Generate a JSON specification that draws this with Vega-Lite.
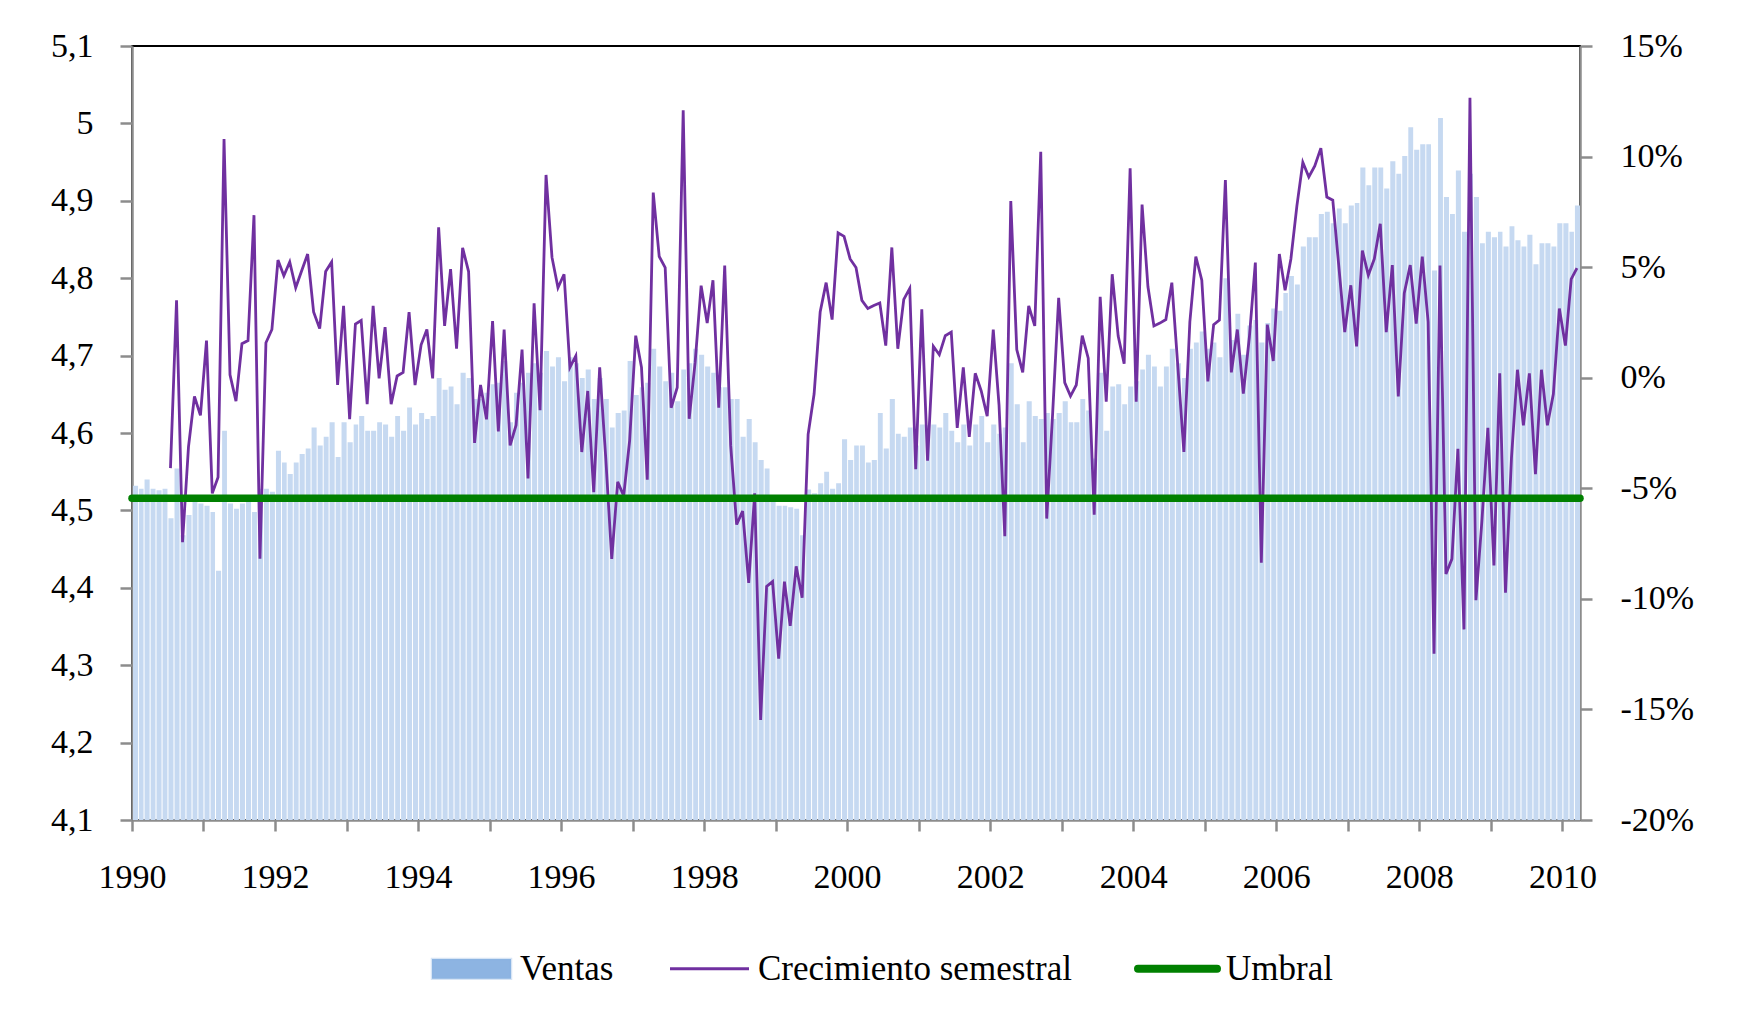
{
  "$schema": "https://vega.github.io/schema/vega-lite/v6.json",
  "autosize": {"type": "none"},
  "width": 1448,
  "height": 774,
  "padding": {"left": 132, "top": 46, "right": 166, "bottom": 202},
  "background": "white",
  "config": {
    "view": {"stroke": "black", "strokeWidth": 2},
    "font": "Liberation Serif",
    "axis": {
      "labelFont": "Liberation Serif",
      "labelFontSize": 34,
      "labelColor": "black",
      "domainColor": "#8C8C8C",
      "domainWidth": 2.5,
      "tickColor": "#8C8C8C",
      "tickWidth": 2.5,
      "tickSize": 12,
      "grid": false
    }
  },
  "data": {
    "values": [
      {"fecha": "1990-01-01", "ventas": 4.532, "crec": null},
      {"fecha": "1990-02-01", "ventas": 4.528, "crec": null},
      {"fecha": "1990-03-01", "ventas": 4.540, "crec": null},
      {"fecha": "1990-04-01", "ventas": 4.528, "crec": null},
      {"fecha": "1990-05-01", "ventas": 4.526, "crec": null},
      {"fecha": "1990-06-01", "ventas": 4.528, "crec": null},
      {"fecha": "1990-07-01", "ventas": 4.490, "crec": -4.09},
      {"fecha": "1990-08-01", "ventas": 4.554, "crec": 3.50},
      {"fecha": "1990-09-01", "ventas": 4.468, "crec": -7.44},
      {"fecha": "1990-10-01", "ventas": 4.494, "crec": -3.13},
      {"fecha": "1990-11-01", "ventas": 4.512, "crec": -0.85},
      {"fecha": "1990-12-01", "ventas": 4.509, "crec": -1.70},
      {"fecha": "1991-01-01", "ventas": 4.506, "crec": 1.68},
      {"fecha": "1991-02-01", "ventas": 4.498, "crec": -5.23},
      {"fecha": "1991-03-01", "ventas": 4.422, "crec": -4.50},
      {"fecha": "1991-04-01", "ventas": 4.603, "crec": 10.79},
      {"fecha": "1991-05-01", "ventas": 4.509, "crec": 0.13},
      {"fecha": "1991-06-01", "ventas": 4.502, "crec": -1.06},
      {"fecha": "1991-07-01", "ventas": 4.509, "crec": 1.54},
      {"fecha": "1991-08-01", "ventas": 4.512, "crec": 1.68},
      {"fecha": "1991-09-01", "ventas": 4.498, "crec": 7.35},
      {"fecha": "1991-10-01", "ventas": 4.528, "crec": -8.19},
      {"fecha": "1991-11-01", "ventas": 4.528, "crec": 1.58},
      {"fecha": "1991-12-01", "ventas": 4.524, "crec": 2.18},
      {"fecha": "1992-01-01", "ventas": 4.577, "crec": 5.32},
      {"fecha": "1992-02-01", "ventas": 4.562, "crec": 4.61},
      {"fecha": "1992-03-01", "ventas": 4.547, "crec": 5.23},
      {"fecha": "1992-04-01", "ventas": 4.562, "crec": 4.07},
      {"fecha": "1992-05-01", "ventas": 4.573, "crec": 4.84},
      {"fecha": "1992-06-01", "ventas": 4.580, "crec": 5.59},
      {"fecha": "1992-07-01", "ventas": 4.607, "crec": 2.97},
      {"fecha": "1992-08-01", "ventas": 4.584, "crec": 2.22},
      {"fecha": "1992-09-01", "ventas": 4.595, "crec": 4.80},
      {"fecha": "1992-10-01", "ventas": 4.614, "crec": 5.23},
      {"fecha": "1992-11-01", "ventas": 4.569, "crec": -0.33},
      {"fecha": "1992-12-01", "ventas": 4.614, "crec": 3.25},
      {"fecha": "1993-01-01", "ventas": 4.588, "crec": -1.88},
      {"fecha": "1993-02-01", "ventas": 4.611, "crec": 2.43},
      {"fecha": "1993-03-01", "ventas": 4.622, "crec": 2.59},
      {"fecha": "1993-04-01", "ventas": 4.603, "crec": -1.20},
      {"fecha": "1993-05-01", "ventas": 4.603, "crec": 3.25},
      {"fecha": "1993-06-01", "ventas": 4.614, "crec": -0.03},
      {"fecha": "1993-07-01", "ventas": 4.611, "crec": 2.29},
      {"fecha": "1993-08-01", "ventas": 4.595, "crec": -1.20},
      {"fecha": "1993-09-01", "ventas": 4.622, "crec": 0.08},
      {"fecha": "1993-10-01", "ventas": 4.603, "crec": 0.24},
      {"fecha": "1993-11-01", "ventas": 4.633, "crec": 2.97},
      {"fecha": "1993-12-01", "ventas": 4.611, "crec": -0.33},
      {"fecha": "1994-01-01", "ventas": 4.626, "crec": 1.49},
      {"fecha": "1994-02-01", "ventas": 4.618, "crec": 2.18},
      {"fecha": "1994-03-01", "ventas": 4.622, "crec": -0.03},
      {"fecha": "1994-04-01", "ventas": 4.671, "crec": 6.80},
      {"fecha": "1994-05-01", "ventas": 4.656, "crec": 2.34},
      {"fecha": "1994-06-01", "ventas": 4.660, "crec": 4.91},
      {"fecha": "1994-07-01", "ventas": 4.637, "crec": 1.31},
      {"fecha": "1994-08-01", "ventas": 4.678, "crec": 5.87},
      {"fecha": "1994-09-01", "ventas": 4.671, "crec": 4.80},
      {"fecha": "1994-10-01", "ventas": 4.644, "crec": -2.95},
      {"fecha": "1994-11-01", "ventas": 4.644, "crec": -0.33},
      {"fecha": "1994-12-01", "ventas": 4.652, "crec": -1.88},
      {"fecha": "1995-01-01", "ventas": 4.663, "crec": 2.56},
      {"fecha": "1995-02-01", "ventas": 4.665, "crec": -2.43},
      {"fecha": "1995-03-01", "ventas": 4.693, "crec": 2.18},
      {"fecha": "1995-04-01", "ventas": 4.614, "crec": -3.06},
      {"fecha": "1995-05-01", "ventas": 4.652, "crec": -2.15},
      {"fecha": "1995-06-01", "ventas": 4.665, "crec": 1.27},
      {"fecha": "1995-07-01", "ventas": 4.678, "crec": -4.55},
      {"fecha": "1995-08-01", "ventas": 4.690, "crec": 3.36},
      {"fecha": "1995-09-01", "ventas": 4.678, "crec": -1.47},
      {"fecha": "1995-10-01", "ventas": 4.706, "crec": 9.17},
      {"fecha": "1995-11-01", "ventas": 4.686, "crec": 5.44},
      {"fecha": "1995-12-01", "ventas": 4.698, "crec": 4.07},
      {"fecha": "1996-01-01", "ventas": 4.667, "crec": 4.68},
      {"fecha": "1996-02-01", "ventas": 4.698, "crec": 0.47},
      {"fecha": "1996-03-01", "ventas": 4.690, "crec": 0.99},
      {"fecha": "1996-04-01", "ventas": 4.671, "crec": -3.36},
      {"fecha": "1996-05-01", "ventas": 4.682, "crec": -0.60},
      {"fecha": "1996-06-01", "ventas": 4.644, "crec": -5.18},
      {"fecha": "1996-07-01", "ventas": 4.671, "crec": 0.47},
      {"fecha": "1996-08-01", "ventas": 4.644, "crec": -3.63},
      {"fecha": "1996-09-01", "ventas": 4.607, "crec": -8.19},
      {"fecha": "1996-10-01", "ventas": 4.626, "crec": -4.71},
      {"fecha": "1996-11-01", "ventas": 4.629, "crec": -5.34},
      {"fecha": "1996-12-01", "ventas": 4.693, "crec": -2.84},
      {"fecha": "1997-01-01", "ventas": 4.649, "crec": 1.90},
      {"fecha": "1997-02-01", "ventas": 4.659, "crec": 0.47},
      {"fecha": "1997-03-01", "ventas": 4.665, "crec": -4.61},
      {"fecha": "1997-04-01", "ventas": 4.709, "crec": 8.37},
      {"fecha": "1997-05-01", "ventas": 4.686, "crec": 5.48},
      {"fecha": "1997-06-01", "ventas": 4.667, "crec": 4.98},
      {"fecha": "1997-07-01", "ventas": 4.678, "crec": -1.36},
      {"fecha": "1997-08-01", "ventas": 4.641, "crec": -0.44},
      {"fecha": "1997-09-01", "ventas": 4.682, "crec": 12.09},
      {"fecha": "1997-10-01", "ventas": 4.690, "crec": -1.86},
      {"fecha": "1997-11-01", "ventas": 4.709, "crec": 0.69},
      {"fecha": "1997-12-01", "ventas": 4.701, "crec": 4.16},
      {"fecha": "1998-01-01", "ventas": 4.686, "crec": 2.47},
      {"fecha": "1998-02-01", "ventas": 4.678, "crec": 4.41},
      {"fecha": "1998-03-01", "ventas": 4.659, "crec": -1.36},
      {"fecha": "1998-04-01", "ventas": 4.659, "crec": 5.07},
      {"fecha": "1998-05-01", "ventas": 4.644, "crec": -3.06},
      {"fecha": "1998-06-01", "ventas": 4.644, "crec": -6.64},
      {"fecha": "1998-07-01", "ventas": 4.595, "crec": -6.03},
      {"fecha": "1998-08-01", "ventas": 4.618, "crec": -9.28},
      {"fecha": "1998-09-01", "ventas": 4.588, "crec": -5.23},
      {"fecha": "1998-10-01", "ventas": 4.565, "crec": -15.48},
      {"fecha": "1998-11-01", "ventas": 4.554, "crec": -9.44},
      {"fecha": "1998-12-01", "ventas": 4.519, "crec": -9.22},
      {"fecha": "1999-01-01", "ventas": 4.506, "crec": -12.70},
      {"fecha": "1999-02-01", "ventas": 4.506, "crec": -9.22},
      {"fecha": "1999-03-01", "ventas": 4.504, "crec": -11.22},
      {"fecha": "1999-04-01", "ventas": 4.502, "crec": -8.53},
      {"fecha": "1999-05-01", "ventas": 4.468, "crec": -9.95},
      {"fecha": "1999-06-01", "ventas": 4.527, "crec": -2.56},
      {"fecha": "1999-07-01", "ventas": 4.522, "crec": -0.74},
      {"fecha": "1999-08-01", "ventas": 4.535, "crec": 2.97},
      {"fecha": "1999-09-01", "ventas": 4.550, "crec": 4.30},
      {"fecha": "1999-10-01", "ventas": 4.528, "crec": 2.63},
      {"fecha": "1999-11-01", "ventas": 4.535, "crec": 6.55},
      {"fecha": "1999-12-01", "ventas": 4.592, "crec": 6.39},
      {"fecha": "2000-01-01", "ventas": 4.565, "crec": 5.37},
      {"fecha": "2000-02-01", "ventas": 4.584, "crec": 4.98},
      {"fecha": "2000-03-01", "ventas": 4.584, "crec": 3.50},
      {"fecha": "2000-04-01", "ventas": 4.562, "crec": 3.13},
      {"fecha": "2000-05-01", "ventas": 4.565, "crec": 3.27},
      {"fecha": "2000-06-01", "ventas": 4.626, "crec": 3.38},
      {"fecha": "2000-07-01", "ventas": 4.580, "crec": 1.45},
      {"fecha": "2000-08-01", "ventas": 4.644, "crec": 5.89},
      {"fecha": "2000-09-01", "ventas": 4.599, "crec": 1.31},
      {"fecha": "2000-10-01", "ventas": 4.595, "crec": 3.54},
      {"fecha": "2000-11-01", "ventas": 4.607, "crec": 4.04},
      {"fecha": "2000-12-01", "ventas": 4.584, "crec": -4.14},
      {"fecha": "2001-01-01", "ventas": 4.611, "crec": 3.09},
      {"fecha": "2001-02-01", "ventas": 4.610, "crec": -3.75},
      {"fecha": "2001-03-01", "ventas": 4.611, "crec": 1.42},
      {"fecha": "2001-04-01", "ventas": 4.607, "crec": 1.04},
      {"fecha": "2001-05-01", "ventas": 4.626, "crec": 1.90},
      {"fecha": "2001-06-01", "ventas": 4.603, "crec": 2.06},
      {"fecha": "2001-07-01", "ventas": 4.588, "crec": -2.27},
      {"fecha": "2001-08-01", "ventas": 4.611, "crec": 0.47},
      {"fecha": "2001-09-01", "ventas": 4.584, "crec": -2.68},
      {"fecha": "2001-10-01", "ventas": 4.611, "crec": 0.20},
      {"fecha": "2001-11-01", "ventas": 4.622, "crec": -0.60},
      {"fecha": "2001-12-01", "ventas": 4.588, "crec": -1.74},
      {"fecha": "2002-01-01", "ventas": 4.611, "crec": 2.18},
      {"fecha": "2002-02-01", "ventas": 4.599, "crec": -1.24},
      {"fecha": "2002-03-01", "ventas": 4.607, "crec": -7.17},
      {"fecha": "2002-04-01", "ventas": 4.690, "crec": 7.99},
      {"fecha": "2002-05-01", "ventas": 4.637, "crec": 1.27},
      {"fecha": "2002-06-01", "ventas": 4.588, "crec": 0.24},
      {"fecha": "2002-07-01", "ventas": 4.641, "crec": 3.25},
      {"fecha": "2002-08-01", "ventas": 4.622, "crec": 2.34},
      {"fecha": "2002-09-01", "ventas": 4.618, "crec": 10.22},
      {"fecha": "2002-10-01", "ventas": 4.626, "crec": -6.37},
      {"fecha": "2002-11-01", "ventas": 4.618, "crec": -1.58},
      {"fecha": "2002-12-01", "ventas": 4.626, "crec": 3.61},
      {"fecha": "2003-01-01", "ventas": 4.641, "crec": -0.22},
      {"fecha": "2003-02-01", "ventas": 4.614, "crec": -0.83},
      {"fecha": "2003-03-01", "ventas": 4.614, "crec": -0.33},
      {"fecha": "2003-04-01", "ventas": 4.644, "crec": 1.90},
      {"fecha": "2003-05-01", "ventas": 4.629, "crec": 0.88},
      {"fecha": "2003-06-01", "ventas": 4.567, "crec": -6.19},
      {"fecha": "2003-07-01", "ventas": 4.678, "crec": 3.66},
      {"fecha": "2003-08-01", "ventas": 4.603, "crec": -1.08},
      {"fecha": "2003-09-01", "ventas": 4.660, "crec": 4.68},
      {"fecha": "2003-10-01", "ventas": 4.663, "crec": 1.88},
      {"fecha": "2003-11-01", "ventas": 4.637, "crec": 0.63},
      {"fecha": "2003-12-01", "ventas": 4.660, "crec": 9.47},
      {"fecha": "2004-01-01", "ventas": 4.667, "crec": -1.08},
      {"fecha": "2004-02-01", "ventas": 4.682, "crec": 7.83},
      {"fecha": "2004-03-01", "ventas": 4.701, "crec": 4.11},
      {"fecha": "2004-04-01", "ventas": 4.686, "crec": 2.34},
      {"fecha": "2004-05-01", "ventas": 4.660, "crec": 2.47},
      {"fecha": "2004-06-01", "ventas": 4.686, "crec": 2.63},
      {"fecha": "2004-07-01", "ventas": 4.709, "crec": 4.30},
      {"fecha": "2004-08-01", "ventas": 4.690, "crec": 0.47},
      {"fecha": "2004-09-01", "ventas": 4.671, "crec": -3.36},
      {"fecha": "2004-10-01", "ventas": 4.709, "crec": 2.52},
      {"fecha": "2004-11-01", "ventas": 4.717, "crec": 5.48},
      {"fecha": "2004-12-01", "ventas": 4.731, "crec": 4.41},
      {"fecha": "2005-01-01", "ventas": 4.709, "crec": -0.17},
      {"fecha": "2005-02-01", "ventas": 4.717, "crec": 2.40},
      {"fecha": "2005-03-01", "ventas": 4.698, "crec": 2.61},
      {"fecha": "2005-04-01", "ventas": 4.800, "crec": 8.94},
      {"fecha": "2005-05-01", "ventas": 4.720, "crec": 0.24},
      {"fecha": "2005-06-01", "ventas": 4.754, "crec": 2.18},
      {"fecha": "2005-07-01", "ventas": 4.701, "crec": -0.72},
      {"fecha": "2005-08-01", "ventas": 4.739, "crec": 1.84},
      {"fecha": "2005-09-01", "ventas": 4.746, "crec": 5.21},
      {"fecha": "2005-10-01", "ventas": 4.717, "crec": -8.37},
      {"fecha": "2005-11-01", "ventas": 4.742, "crec": 2.40},
      {"fecha": "2005-12-01", "ventas": 4.761, "crec": 0.76},
      {"fecha": "2006-01-01", "ventas": 4.758, "crec": 5.59},
      {"fecha": "2006-02-01", "ventas": 4.781, "crec": 3.95},
      {"fecha": "2006-03-01", "ventas": 4.803, "crec": 5.37},
      {"fecha": "2006-04-01", "ventas": 4.792, "crec": 7.76},
      {"fecha": "2006-05-01", "ventas": 4.841, "crec": 9.74},
      {"fecha": "2006-06-01", "ventas": 4.853, "crec": 9.08},
      {"fecha": "2006-07-01", "ventas": 4.853, "crec": 9.58},
      {"fecha": "2006-08-01", "ventas": 4.883, "crec": 10.38},
      {"fecha": "2006-09-01", "ventas": 4.886, "crec": 8.17},
      {"fecha": "2006-10-01", "ventas": 4.871, "crec": 8.03},
      {"fecha": "2006-11-01", "ventas": 4.890, "crec": 5.07},
      {"fecha": "2006-12-01", "ventas": 4.871, "crec": 2.06},
      {"fecha": "2007-01-01", "ventas": 4.894, "crec": 4.18},
      {"fecha": "2007-02-01", "ventas": 4.897, "crec": 1.42},
      {"fecha": "2007-03-01", "ventas": 4.943, "crec": 5.75},
      {"fecha": "2007-04-01", "ventas": 4.920, "crec": 4.64},
      {"fecha": "2007-05-01", "ventas": 4.943, "crec": 5.37},
      {"fecha": "2007-06-01", "ventas": 4.943, "crec": 6.96},
      {"fecha": "2007-07-01", "ventas": 4.916, "crec": 2.06},
      {"fecha": "2007-08-01", "ventas": 4.951, "crec": 5.09},
      {"fecha": "2007-09-01", "ventas": 4.935, "crec": -0.85},
      {"fecha": "2007-10-01", "ventas": 4.958, "crec": 3.82},
      {"fecha": "2007-11-01", "ventas": 4.995, "crec": 5.09},
      {"fecha": "2007-12-01", "ventas": 4.966, "crec": 2.45},
      {"fecha": "2008-01-01", "ventas": 4.973, "crec": 5.48},
      {"fecha": "2008-02-01", "ventas": 4.973, "crec": 2.52},
      {"fecha": "2008-03-01", "ventas": 4.810, "crec": -12.48},
      {"fecha": "2008-04-01", "ventas": 5.007, "crec": 5.07},
      {"fecha": "2008-05-01", "ventas": 4.905, "crec": -8.88},
      {"fecha": "2008-06-01", "ventas": 4.883, "crec": -8.19},
      {"fecha": "2008-07-01", "ventas": 4.939, "crec": -3.22},
      {"fecha": "2008-08-01", "ventas": 4.860, "crec": -11.38},
      {"fecha": "2008-09-01", "ventas": 4.935, "crec": 12.66},
      {"fecha": "2008-10-01", "ventas": 4.905, "crec": -10.06},
      {"fecha": "2008-11-01", "ventas": 4.845, "crec": -6.48},
      {"fecha": "2008-12-01", "ventas": 4.860, "crec": -2.27},
      {"fecha": "2009-01-01", "ventas": 4.853, "crec": -8.49},
      {"fecha": "2009-02-01", "ventas": 4.860, "crec": 0.20},
      {"fecha": "2009-03-01", "ventas": 4.841, "crec": -9.72},
      {"fecha": "2009-04-01", "ventas": 4.867, "crec": -3.63},
      {"fecha": "2009-05-01", "ventas": 4.849, "crec": 0.36},
      {"fecha": "2009-06-01", "ventas": 4.841, "crec": -2.15},
      {"fecha": "2009-07-01", "ventas": 4.856, "crec": 0.20},
      {"fecha": "2009-08-01", "ventas": 4.818, "crec": -4.36},
      {"fecha": "2009-09-01", "ventas": 4.845, "crec": 0.36},
      {"fecha": "2009-10-01", "ventas": 4.845, "crec": -2.15},
      {"fecha": "2009-11-01", "ventas": 4.841, "crec": -0.74},
      {"fecha": "2009-12-01", "ventas": 4.871, "crec": 3.13},
      {"fecha": "2010-01-01", "ventas": 4.871, "crec": 1.45},
      {"fecha": "2010-02-01", "ventas": 4.860, "crec": 4.46},
      {"fecha": "2010-03-01", "ventas": 4.894, "crec": 4.96}
    ]
  },
  "layer": [
    {
      "mark": {"type": "bar", "clip": true, "color": "#C6D9F1"},
      "encoding": {
        "x": {
          "field": "fecha",
          "type": "temporal",
          "timeUnit": "utcyearmonth",
          "scale": {
            "type": "utc",
            "domain": [
              {"year": 1990, "month": 1, "date": 1, "utc": true},
              {"year": 2010, "month": 4, "date": 1, "utc": true}
            ]
          },
          "axis": {
            "title": null,
            "values": [
              {"year": 1990, "month": 1, "date": 1, "utc": true},
              {"year": 1991, "month": 1, "date": 1, "utc": true},
              {"year": 1992, "month": 1, "date": 1, "utc": true},
              {"year": 1993, "month": 1, "date": 1, "utc": true},
              {"year": 1994, "month": 1, "date": 1, "utc": true},
              {"year": 1995, "month": 1, "date": 1, "utc": true},
              {"year": 1996, "month": 1, "date": 1, "utc": true},
              {"year": 1997, "month": 1, "date": 1, "utc": true},
              {"year": 1998, "month": 1, "date": 1, "utc": true},
              {"year": 1999, "month": 1, "date": 1, "utc": true},
              {"year": 2000, "month": 1, "date": 1, "utc": true},
              {"year": 2001, "month": 1, "date": 1, "utc": true},
              {"year": 2002, "month": 1, "date": 1, "utc": true},
              {"year": 2003, "month": 1, "date": 1, "utc": true},
              {"year": 2004, "month": 1, "date": 1, "utc": true},
              {"year": 2005, "month": 1, "date": 1, "utc": true},
              {"year": 2006, "month": 1, "date": 1, "utc": true},
              {"year": 2007, "month": 1, "date": 1, "utc": true},
              {"year": 2008, "month": 1, "date": 1, "utc": true},
              {"year": 2009, "month": 1, "date": 1, "utc": true},
              {"year": 2010, "month": 1, "date": 1, "utc": true}
            ],
            "labelExpr": "utcyear(datum.value) % 2 === 0 ? utcFormat(datum.value, '%Y') : ''",
            "tickSize": 11,
            "labelPadding": 29,
            "labelFlush": false,
            "labelOverlap": false,
            "labelBound": false
          }
        },
        "y": {
          "field": "ventas",
          "type": "quantitative",
          "scale": {"domain": [4.1, 5.1], "zero": false, "nice": false},
          "axis": {
            "title": null,
            "orient": "left",
            "values": [4.1, 4.2, 4.3, 4.4, 4.5, 4.6, 4.7, 4.8, 4.9, 5.0, 5.1],
            "labelExpr": "replace(format(datum.value, '.1~f'), '.', ',')",
            "labelPadding": 27,
            "labelFlush": false,
            "labelOverlap": false
          }
        }
      }
    },
    {
      "mark": {"type": "line", "strokeWidth": 2.8, "clip": true},
      "encoding": {
        "x": {"field": "fecha", "type": "temporal", "timeUnit": "utcyearmonth", "bandPosition": 0.5},
        "y": {
          "field": "crec",
          "type": "quantitative",
          "scale": {"domain": [-20, 15], "zero": false, "nice": false},
          "axis": {
            "title": null,
            "orient": "right",
            "values": [-20, -15, -10, -5, 0, 5, 10, 15],
            "labelExpr": "datum.value + '%'",
            "labelPadding": 28,
            "labelFlush": false,
            "labelOverlap": false
          }
        },
        "color": {
          "datum": "Crecimiento semestral",
          "scale": {
            "domain": ["Ventas", "Crecimiento semestral", "Umbral"],
            "range": ["#8DB4E2", "#7030A0", "#008000"]
          },
          "legend": {
            "title": null,
            "orient": "none",
            "legendX": 322,
            "legendY": 905,
            "direction": "horizontal",
            "padding": 0,
            "labelFont": "Liberation Serif",
            "labelFontSize": 35,
            "labelColor": "black",
            "labelLimit": 1000,
            "labelOffset": 31,
            "columnPadding": 50,
            "symbolSize": 6241,
            "encode": {
              "symbols": {
                "update": {
                  "shape": {"signal": "datum.value === 'Ventas' ? 'M-1,-0.25H1V0.25H-1Z' : 'stroke'"},
                  "size": {"value": 6241},
                  "fill": {"signal": "datum.value === 'Ventas' ? '#8DB4E2' : 'transparent'"},
                  "fillOpacity": {"value": 1},
                  "strokeOpacity": {"signal": "datum.value === 'Ventas' ? 0.35 : 1"},
                  "strokeWidth": {"signal": "datum.value === 'Ventas' ? 2.5 : (datum.value === 'Umbral' ? 8 : 3)"},
                  "strokeCap": {"signal": "datum.value === 'Umbral' ? 'round' : 'butt'"},
                  "opacity": {"value": 1}
                }
              }
            }
          }
        }
      }
    },
    {
      "data": {"values": [{"umbral": -5.45}]},
      "mark": {"type": "rule", "strokeWidth": 7.5, "strokeCap": "round"},
      "encoding": {
        "y": {
          "field": "umbral",
          "type": "quantitative",
          "scale": {"domain": [-20, 15], "zero": false, "nice": false},
          "axis": null
        },
        "color": {"datum": "Umbral"}
      }
    }
  ],
  "resolve": {"scale": {"y": "independent"}}
}
